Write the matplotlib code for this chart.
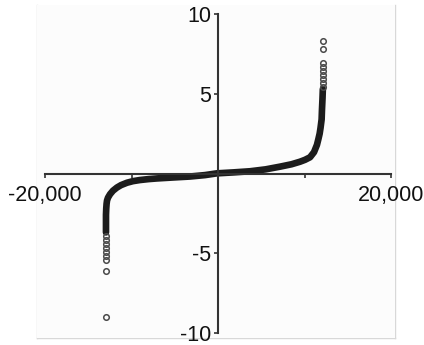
import matplotlib.pyplot as plt
from matplotlib.patches import Rectangle
from matplotlib.lines import Line2D

plt.rcParams['font.family'] = ['Liberation Sans', 'DejaVu Sans']

# main sorted curve (rank vs value)
band_x = [-12950, -12950, -12950, -12920, -12880, -12830, -12720, -12480, -12140,
          -11680, -11210, -10520, -9830, -9020, -8000, -7050, -5200, -3240, -1500,
          -120, 1800, 3700, 5500, 7170, 8500, 9480, 10060, 10640, 11100, 11440,
          11600, 11750, 11850, 11980, 12020, 12080, 12120]
band_y = [-3.70, -3.20, -2.60, -2.20, -1.90, -1.70, -1.52, -1.30, -1.08,
          -0.88, -0.73, -0.58, -0.48, -0.41, -0.35, -0.31, -0.25, -0.19, -0.10,
          0.01, 0.07, 0.14, 0.26, 0.43, 0.58, 0.74, 0.86, 1.02, 1.34, 1.80,
          2.15, 2.50, 2.85, 3.40, 4.00, 4.70, 5.30]

# sparse circles at the two tails
low_x = [-12950, -12950, -12950, -12950, -12950, -12950, -12950, -12950, -12950]
low_y = [-9.03, -6.11, -5.43, -5.18, -4.93, -4.68, -4.43, -4.18, -3.93]
high_x = [12140, 12140, 12140, 12140, 12140, 12140, 12140, 12140, 12140]
high_y = [5.46, 5.69, 5.94, 6.19, 6.45, 6.70, 6.95, 7.81, 8.35]

xticks = [-20000, -10000, 10000, 20000]
xlabels = ['-20,000', '', '', '20,000']
yticks = [-10, -5, 5, 10]
ylabels = ['-10', '-5', '5', '10']

W, H = 424, 345
fig = plt.figure(figsize=(W / 100, H / 100), dpi=100)

# light panel behind the chart
fig.patches.append(Rectangle((37 / W, 1 - 337.7 / H), (395 - 37) / W, (337.7 - 5) / H,
                             transform=fig.transFigure, facecolor='#fcfcfc',
                             edgecolor='none', zorder=0))
for xs, ys in [([37, 37], [5, 337.7]), ([395, 395], [5, 337.7]), ([37, 395], [337.7, 337.7])]:
    fig.lines.append(Line2D([x / W for x in xs], [1 - y / H for y in ys],
                            transform=fig.transFigure, color='#d8d8d8', lw=1, zorder=0))

ax = fig.add_axes([45 / W, 1 - 332.7 / H, 346 / W, 318.4 / H])
ax.set_zorder(3)
ax.patch.set_alpha(0)

ax.plot(band_x, band_y, color='#1c1c1c', lw=4.8, solid_capstyle='round',
        solid_joinstyle='round')
ax.plot(low_x, low_y, 'o', ms=4, mfc='none', mec='#4a4a4a', mew=1.1)
ax.plot(high_x, high_y, 'o', ms=4, mfc='none', mec='#4a4a4a', mew=1.1)

ax.set_xlim(-20000, 20000)
ax.set_ylim(-10, 10)

for s in ['top', 'right']:
    ax.spines[s].set_visible(False)
for s in ['left', 'bottom']:
    ax.spines[s].set_position(('data', 0))
    ax.spines[s].set_color('#333333')
    ax.spines[s].set_linewidth(1.5)

ax.set_xticks(xticks)
ax.set_xticklabels(xlabels)
ax.set_yticks(yticks)
ax.set_yticklabels(ylabels)
ax.tick_params(axis='both', direction='out', length=3, width=1.2, color='#333333',
               labelsize=15.5, labelcolor='#111111')
ax.tick_params(axis='x', pad=5)
ax.tick_params(axis='y', pad=2)

fig.savefig('out.png', dpi=100)
